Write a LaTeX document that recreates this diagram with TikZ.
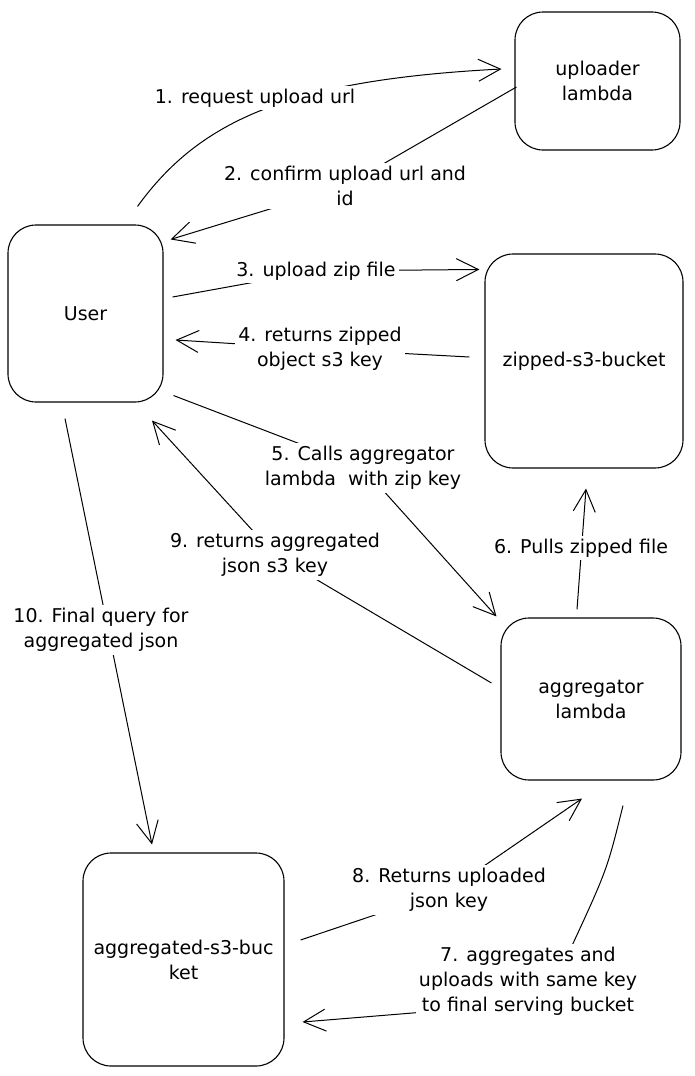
\documentclass[tikz,border=0pt]{standalone}
\usepackage{fontspec}
\setmainfont{DejaVu Sans}
\usetikzlibrary{positioning,arrows.meta,calc,backgrounds}

\begin{document}
\begin{tikzpicture}[x=1pt,y=-1pt,node distance=100pt,on grid,
  box/.style={draw,line width=1.1pt,rounded corners=28pt,align=center,font=\fontsize{19}{25}\selectfont},
  msg/.style={fill=white,inner sep=3pt,align=center,font=\fontsize{19}{25}\selectfont},
  flow/.style={line width=1pt,-{Straight Barb[length=22pt,width=22pt]}}]
\useasboundingbox (0,0) rectangle (694,1076);
% services and buckets
\node[box,minimum width=155pt,minimum height=177pt] (user) at (85.5,313.5) {User};
\node[box,minimum width=165pt,minimum height=138pt] (upl) [above right=232.5pt and 512pt of user] {uploader\\lambda};
\node[box,minimum width=198pt,minimum height=214pt] (zip) [below right=47.5pt and 498.5pt of user] {zipped-s3-bucket};
\node[box,minimum width=180pt,minimum height=162pt] (agg) [below right=338pt and 7pt of zip] {aggregator\\lambda};
\node[box,minimum width=201pt,minimum height=213pt] (aggb) [below right=646pt and 98pt of user] {aggregated-s3-buc\\ket};
% step labels
\node[msg] (m1) at (255,98) {1. request upload url};
\node[msg] (m2) at (345,186) {2. confirm upload url and\\id};
\node[msg] (m3) at (316,271) {3. upload zip file};
\node[msg] (m4) at (320,349) {4. returns zipped\\object s3 key};
\node[msg] (m5) at (363,468) {5. Calls aggregator\\lambda\ \ with zip key};
\node[msg] (m6) at (581,548) {6. Pulls zipped file};
\node[msg] (m7) at (528,981) {7. aggregates and\\uploads with same key\\to final serving bucket};
\node[msg] (m8) at (449,890) {8. Returns uploaded\\json key};
\node[msg] (m9) at (275,555) {9. returns aggregated\\json s3 key};
\node[msg] (m10) at (101,630) {10. Final query for\\aggregated json};
% arrows go below the labels
\begin{scope}[on background layer]
\fill[white] (0,0) rectangle (694,1076);
\draw[flow] ($(user.north)+(52,-18)$) .. controls (200,120) and (290,80) .. ($(upl.west)+(-13,-12)$);
\draw[flow] ($(upl.west)+(2,6)$) -- (m2.center) -- ($(user.north east)+(7,15)$);
\draw[flow] ($(user.east)+(9,-16.5)$) -- (m3.center) -- ($(zip.north west)+(-5,16)$);
\draw[flow] ($(zip.west)+(-15,-4)$) -- (m4.center) -- ($(user.east)+(12,26.5)$);
\draw[flow] ($(user.south east)+(10,-7)$) -- (m5.center) -- ($(agg.north west)+(-4,-1)$);
\draw[flow] ($(agg.north)+(-14,-8)$) -- ($(zip.south)+(2,20)$);
\draw[flow] ($(agg.south)+(32,25)$) .. controls (607,870) .. (570,950) -- ($(m7.south west)+(4,-6)$) -- ($(aggb.east)+(18,62.5)$);
\draw[flow] ($(aggb.east)+(16,-19.5)$) -- (m8.center) -- ($(agg.south)+(-9,18)$);
\draw[flow] ($(agg.west)+(-9,-16)$) -- (m9.center) -- ($(user.south)+(66.5,18)$);
\draw[flow] ($(user.south)+(-20.5,16)$) -- ($(aggb.north)+(-31.5,-8)$);
\end{scope}
\end{tikzpicture}
\end{document}
